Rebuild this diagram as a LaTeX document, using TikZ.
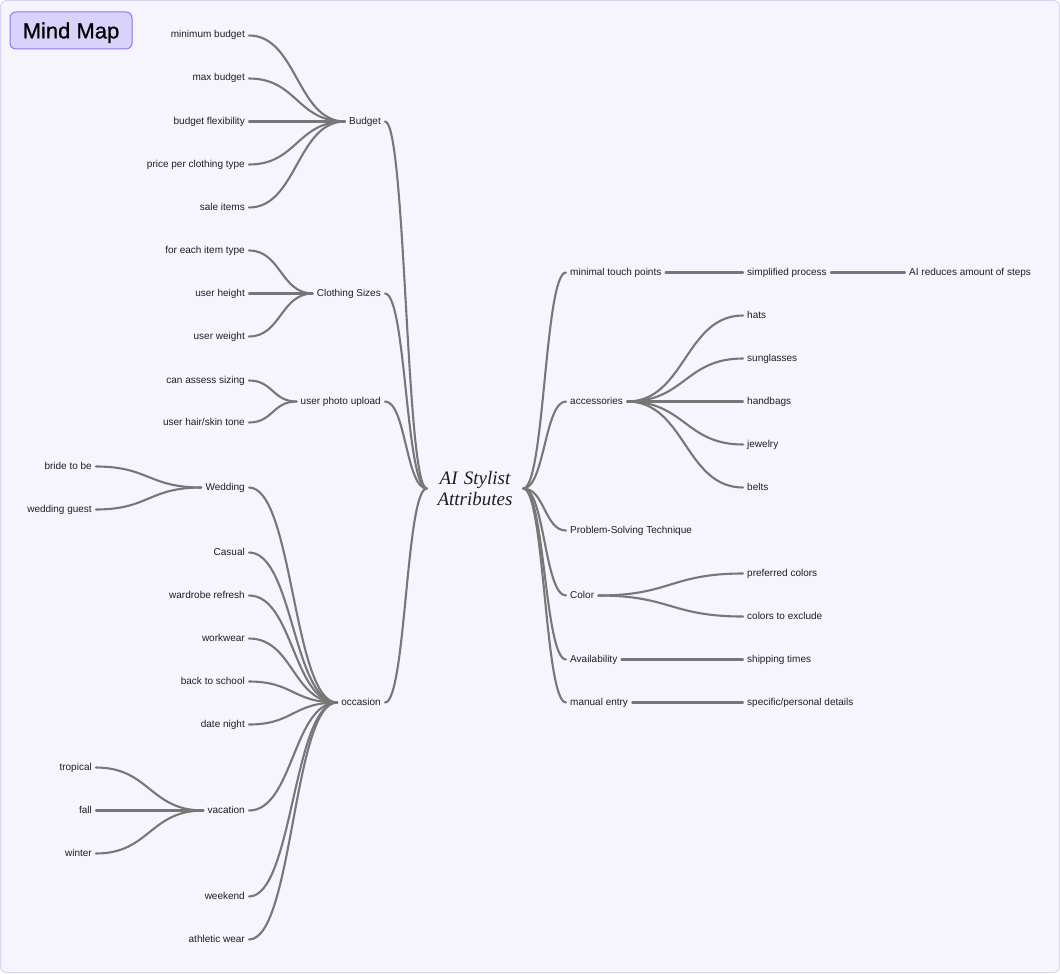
\documentclass[tikz,border=0pt]{standalone}
\usepackage{fontspec}
\setmainfont{Liberation Sans}
\newfontfamily\rootfont{Liberation Serif}
\newfontfamily\titlefont{Liberation Sans}[FakeBold=0.8]
\usetikzlibrary{calc}
\definecolor{bgc}{HTML}{F6F5FE}
\definecolor{bdc}{HTML}{D9D5EE}
\definecolor{lnc}{HTML}{777777}
\definecolor{ttf}{HTML}{D9D3FB}
\definecolor{ttd}{HTML}{9373F2}
\definecolor{txc}{HTML}{1E1E1E}
\tikzset{
  conn/.style={draw=lnc, line width=2.1pt, line cap=round},
  lbl/.style={font=\fontsize{10}{12}\selectfont, text=txc, inner xsep=4pt, inner ysep=1pt, text height=7.5pt, text depth=2.5pt},
  lft/.style={lbl, anchor=east},
  rgt/.style={lbl, anchor=west},
}
\newcommand\lk[2]{\draw[conn] let \p1=(#1), \p2=(#2) in (\p1) .. controls ({(\x1+\x2)/2},\y1) and ({(\x1+\x2)/2},\y2) .. (\p2);}
\begin{document}
\begin{tikzpicture}[x=1pt,y=-1pt]
\useasboundingbox (0,0) rectangle (1060,974);
\fill[bgc, draw=bdc, line width=1pt, rounded corners=6pt] (0.5,0.5) rectangle (1059.5,972.5);
\begin{scope}[yshift=-1.5pt]
% title
\node[fill=ttf, draw=ttd, line width=1pt, rounded corners=6pt, minimum width=122pt, minimum height=37pt, inner sep=0pt, text height=15.8pt, text depth=0pt, font=\titlefont\fontsize{22}{26}\selectfont, text=black] (title) at (71,29) {Mind Map};
% root
\node[font=\rootfont\itshape\fontsize{19}{21}\selectfont, text=txc, text width=80pt, align=center, inner xsep=8pt, inner ysep=0pt] (root) at (475,487) {AI Stylist\\Attributes};
% left level 1
\node[lft] (budget) at (385,120) {Budget};
\node[lft] (sizes) at (385,292) {Clothing Sizes};
\node[lft] (photo) at (385,400) {user photo upload};
\node[lft] (occasion) at (385,701) {occasion};
% left level 2
\node[lft] (minb) at (249,34) {minimum budget};
\node[lft] (maxb) at (249,77) {max budget};
\node[lft] (flex) at (249,120) {budget flexibility};
\node[lft] (price) at (249,163) {price per clothing type};
\node[lft] (sale) at (249,206) {sale items};
\node[lft] (each) at (249,249) {for each item type};
\node[lft] (height) at (249,292) {user height};
\node[lft] (weight) at (249,335) {user weight};
\node[lft] (assess) at (249,379) {can assess sizing};
\node[lft] (hair) at (249,421) {user hair/skin tone};
\node[lft] (wedding) at (249,486) {Wedding};
\node[lft] (casual) at (249,551) {Casual};
\node[lft] (refresh) at (249,594) {wardrobe refresh};
\node[lft] (workwear) at (249,637) {workwear};
\node[lft] (school) at (249,680) {back to school};
\node[lft] (date) at (249,723) {date night};
\node[lft] (vacation) at (249,809) {vacation};
\node[lft] (weekend) at (249,895) {weekend};
\node[lft] (athletic) at (249,938) {athletic wear};
% left level 3
\node[lft] (bride) at (96,465) {bride to be};
\node[lft] (guest) at (96,508) {wedding guest};
\node[lft] (tropical) at (96,766) {tropical};
\node[lft] (fall) at (96,809) {fall};
\node[lft] (winter) at (96,852) {winter};
% right level 1
\node[rgt] (touch) at (566,271) {minimal touch points};
\node[rgt] (acc) at (566,400) {accessories};
\node[rgt] (psol) at (566,529) {Problem-Solving Technique};
\node[rgt] (color) at (566,594) {Color};
\node[rgt] (avail) at (566,658) {Availability};
\node[rgt] (manual) at (566,701) {manual entry};
% right level 2
\node[rgt] (simp) at (743,271) {simplified process};
\node[rgt] (hats) at (743,314) {hats};
\node[rgt] (sung) at (743,357) {sunglasses};
\node[rgt] (handb) at (743,400) {handbags};
\node[rgt] (jewel) at (743,443) {jewelry};
\node[rgt] (belts) at (743,486) {belts};
\node[rgt] (pref) at (743,572) {preferred colors};
\node[rgt] (excl) at (743,615) {colors to exclude};
\node[rgt] (ship) at (743,658) {shipping times};
\node[rgt] (spec) at (743,701) {specific/personal details};
% right level 3
\node[rgt] (aisteps) at (905,271) {AI reduces amount of steps};
% connectors root
\foreach \m in {budget,sizes,photo,occasion} {\lk{root.west}{\m.east}}
\foreach \m in {touch,acc,psol,color,avail,manual} {\lk{root.east}{\m.west}}
% left subtrees
\foreach \m in {minb,maxb,flex,price,sale} {\lk{budget.west}{\m.east}}
\foreach \m in {each,height,weight} {\lk{sizes.west}{\m.east}}
\foreach \m in {assess,hair} {\lk{photo.west}{\m.east}}
\foreach \m in {wedding,casual,refresh,workwear,school,date,vacation,weekend,athletic} {\lk{occasion.west}{\m.east}}
\foreach \m in {bride,guest} {\lk{wedding.west}{\m.east}}
\foreach \m in {tropical,fall,winter} {\lk{vacation.west}{\m.east}}
% right subtrees
\lk{touch.east}{simp.west}
\lk{simp.east}{aisteps.west}
\foreach \m in {hats,sung,handb,jewel,belts} {\lk{acc.east}{\m.west}}
\foreach \m in {pref,excl} {\lk{color.east}{\m.west}}
\lk{avail.east}{ship.west}
\lk{manual.east}{spec.west}
\end{scope}
\end{tikzpicture}
\end{document}
